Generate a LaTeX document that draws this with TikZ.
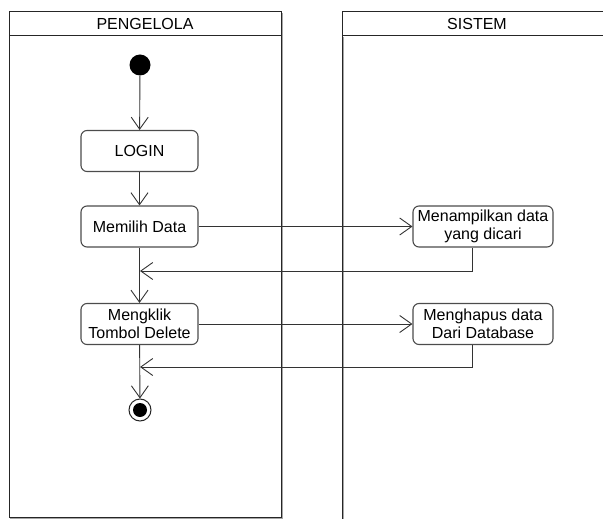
\documentclass[tikz,border=0pt]{standalone}
\usepackage{fontspec}
\setmainfont{Liberation Sans}
\usetikzlibrary{arrows.meta}
\begin{document}
\begin{tikzpicture}[x=1bp,y=-1bp,
  lane/.style={draw=black!85, line width=1bp},
  laneshade/.style={draw=black!35, line width=0.8bp},
  action/.style={draw=black!70, line width=1.1bp, rounded corners=6bp,
    minimum width=117bp, minimum height=41bp, align=center, inner sep=1bp,
    font=\fontsize{16bp}{17.5bp}\selectfont},
  flow/.style={draw=black!80, line width=0.9bp,
    -{Straight Barb[length=12bp,width=17bp,line width=0.9bp]}},
  headtext/.style={font=\fontsize{16bp}{17.5bp}\selectfont}
]
\useasboundingbox (0,0) rectangle (603,519);

% swimlanes
\draw[laneshade] (282,13) -- (282,518) -- (10,518);
\draw[laneshade] (343,37) -- (343,519);
\draw[lane] (9,12) rectangle (281,517);
\draw[lane] (9,36) -- (281,36);
\draw[lane] (342,519) -- (342,12) -- (612,12);
\draw[lane] (342,36) -- (612,36);
\node[headtext] (h1) at (145,24) {PENGELOLA};
\node[headtext] (h2) at (477,24) {SISTEM};

% activity nodes
\node[circle, fill=black, minimum size=21bp, inner sep=0] (start) at (140,65) {};
\node[action] (login) at (139.5,151) {LOGIN};
\node[action] (pilih) at (139.5,226.5) {Memilih Data};
\node[action] (klik) at (139.5,324) {Mengklik\\Tombol Delete};
\node[action, minimum width=140bp] (tampil) at (483,226.5) {Menampilkan data\\yang dicari};
\node[action, minimum width=140bp] (hapus) at (483,324) {Menghapus data\\Dari Database};
\node[circle, draw=black!85, line width=1bp, minimum size=22bp, inner sep=0] (end) at (140,410) {};
\node[circle, fill=black, minimum size=14bp, inner sep=0] (endcore) at (end) {};

% return points
\coordinate (back) at (472,0);
\coordinate (r1) at (140,271);
\coordinate (r2) at (140,367);

% control flow
\draw[flow] (start) -- (login);
\draw[flow] (login) -- (pilih);
\draw[flow] (pilih) -- (klik);
\draw[flow] (klik) -- (end);
\draw[flow] (pilih.east) -- (tampil.west);
\draw[flow] (tampil.south -| back) |- (r1);
\draw[flow] (klik.east) -- (hapus.west);
\draw[flow] (hapus.south -| back) |- (r2);
\end{tikzpicture}
\end{document}
